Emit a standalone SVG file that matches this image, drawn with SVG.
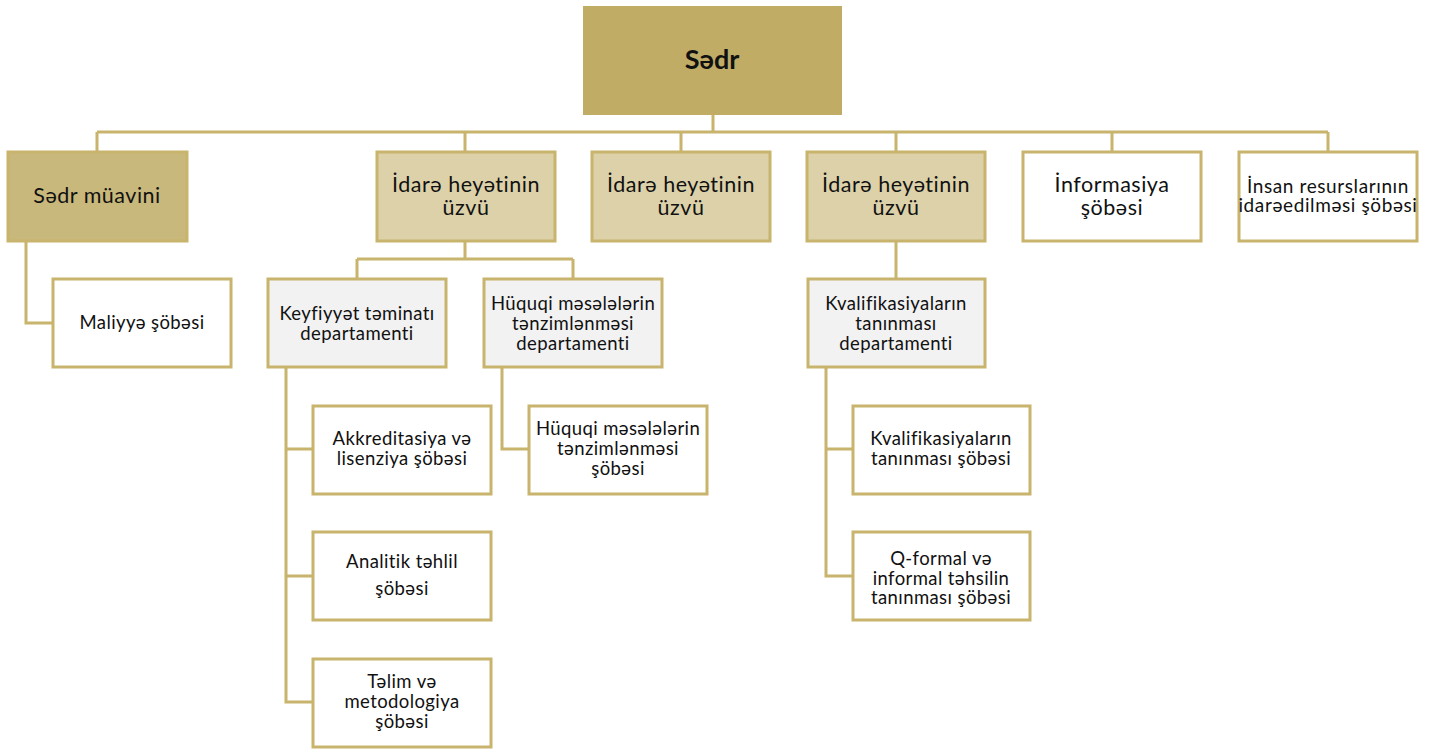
<svg xmlns="http://www.w3.org/2000/svg" width="1437" height="749" viewBox="0 0 1437 749">
<style>
.t{font-family:Lato,"Noto Sans","Liberation Sans",sans-serif;fill:#111;text-anchor:middle}
.l2{font-size:21.5px;letter-spacing:0.5px}
.l3{font-size:18.5px;letter-spacing:0.4px}
.l4{font-size:19px;letter-spacing:0.6px}
.b{stroke:#C8B46C;stroke-width:3}
.w{fill:#fff}
.g{fill:#F2F2F2}
.m{fill:#DCD1A9}
.d{fill:#C9B87B}
.c{fill:none;stroke:#C8B46C;stroke-width:3}
</style>
<rect width="1437" height="749" fill="#fff"/>
<g id="connectors" class="c">
<path d="M713 115V132M97 132H1328M97 132V151M465 132V151M681 132V151M896 132V151M1112 132V151M1328 132V151"/>
<path d="M26 241V323H52"/>
<path d="M465 241V259M357 259H573M357 259V278M573 259V278"/>
<path d="M896 241V278"/>
<path d="M286 368V702H312M286 449H312M286 576H312"/>
<path d="M502 368V449H528"/>
<path d="M826 368V576H852M826 449H852"/>
</g>
<g id="sedr"><rect x="583" y="6" width="259" height="109" fill="#C1AC66"/><text class="t" x="712" y="69" font-size="27" font-weight="bold">Sədr</text></g>
<g id="muavin"><rect class="b d" x="8" y="152" width="179" height="89"/><text class="t l2" x="97" y="203">Sədr müavini</text></g>
<g id="uzv1"><rect class="b m" x="377" y="152" width="178" height="89"/><text class="t l2" x="466" y="192">İdarə heyətinin</text><text class="t l2" x="466" y="215">üzvü</text></g>
<g id="uzv2"><rect class="b m" x="592" y="152" width="178" height="89"/><text class="t l2" x="681" y="192">İdarə heyətinin</text><text class="t l2" x="681" y="215">üzvü</text></g>
<g id="uzv3"><rect class="b m" x="807" y="152" width="178" height="89"/><text class="t l2" x="896" y="192">İdarə heyətinin</text><text class="t l2" x="896" y="215">üzvü</text></g>
<g id="info"><rect class="b w" x="1023" y="152" width="178" height="89"/><text class="t l2" x="1112" y="192">İnformasiya</text><text class="t l2" x="1112" y="215">şöbəsi</text></g>
<g id="insan"><rect class="b w" x="1239" y="152" width="178" height="89"/><text class="t l4" x="1328" y="193">İnsan resurslarının</text><text class="t l4" x="1328" y="212">idarəedilməsi şöbəsi</text></g>
<g id="maliyye"><rect class="b w" x="53" y="279" width="178" height="88"/><text class="t l3" x="142" y="329">Maliyyə şöbəsi</text></g>
<g id="keyfiyyet"><rect class="b g" x="268" y="279" width="178" height="88"/><text class="t l3" x="357" y="320">Keyfiyyət təminatı</text><text class="t l3" x="357" y="340">departamenti</text></g>
<g id="huquq-dep"><rect class="b g" x="484" y="279" width="178" height="88"/><text class="t l3" x="573" y="310">Hüquqi məsələlərin</text><text class="t l3" x="573" y="330">tənzimlənməsi</text><text class="t l3" x="573" y="350">departamenti</text></g>
<g id="kval-dep"><rect class="b g" x="808" y="279" width="177" height="88"/><text class="t l3" x="896" y="310">Kvalifikasiyaların</text><text class="t l3" x="896" y="330">tanınması</text><text class="t l3" x="896" y="350">departamenti</text></g>
<g id="akkred"><rect class="b w" x="313" y="406" width="178" height="88"/><text class="t l3" x="402" y="445">Akkreditasiya və</text><text class="t l3" x="402" y="465">lisenziya şöbəsi</text></g>
<g id="analitik"><rect class="b w" x="313" y="532" width="178" height="88"/><text class="t l3" x="402" y="568">Analitik təhlil</text><text class="t l3" x="402" y="595">şöbəsi</text></g>
<g id="telim"><rect class="b w" x="313" y="659" width="178" height="88"/><text class="t l3" x="402" y="688">Təlim və</text><text class="t l3" x="402" y="708">metodologiya</text><text class="t l3" x="402" y="728">şöbəsi</text></g>
<g id="huquq-sob"><rect class="b w" x="529" y="406" width="178" height="88"/><text class="t l3" x="618" y="435">Hüquqi məsələlərin</text><text class="t l3" x="618" y="455">tənzimlənməsi</text><text class="t l3" x="618" y="475">şöbəsi</text></g>
<g id="kval-sob"><rect class="b w" x="853" y="406" width="177" height="88"/><text class="t l3" x="941" y="445">Kvalifikasiyaların</text><text class="t l3" x="941" y="465">tanınması şöbəsi</text></g>
<g id="qformal"><rect class="b w" x="853" y="532" width="177" height="88"/><text class="t l3" x="941" y="565">Q-formal və</text><text class="t l3" x="941" y="585">informal təhsilin</text><text class="t l3" x="941" y="604">tanınması şöbəsi</text></g>
</svg>
